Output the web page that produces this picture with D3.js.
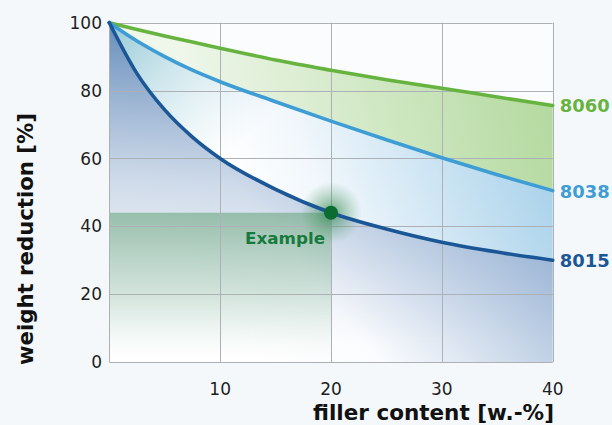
<!DOCTYPE html>
<html><head><meta charset="utf-8">
<script src="https://cdn.jsdelivr.net/npm/d3@7"></script>
<style>html,body{margin:0;padding:0;background:#f5f8fb;}svg{display:block;}</style>
</head><body>
<svg id="chart" width="612" height="425"></svg>
<script>
// ---- data ----
const fillerContent = [0, 2.5, 5, 7.5, 10, 15, 20, 25, 30, 35, 40];
const series8060 = [100, 98, 96.1, 94.3, 92.5, 89, 86, 83.2, 80.7, 78.1, 75.6];
const series8038 = [100, 94.6, 90, 86, 82.6, 76.7, 71, 65.5, 60.2, 55.2, 50.5];
const series8015 = [100, 85, 74.3, 66.3, 60, 50.9, 44, 39.2, 35.3, 32.4, 30];
const seriesNames = ["8060", "8038", "8015"];
const xTicks = [10, 20, 30, 40];
const yTicks = [0, 20, 40, 60, 80, 100];
const example = {x: 20, y: 44, label: "Example"};
const xTitle = "filler content [w.-%]";
const yTitle = "weight reduction [%]";

const FONT = "'DejaVu Sans', Verdana, sans-serif";
const svg = d3.select("#chart");
const x = d3.scaleLinear().domain([0, 40]).range([109.3, 552.7]);
const y = d3.scaleLinear().domain([0, 100]).range([362, 22.7]);
const rows = fillerContent.map((f, i) => ({f, a: series8060[i], b: series8038[i], c: series8015[i]}));

const defs = svg.append("defs");
function lin(id, x1, y1, x2, y2, stops) {
  const g = defs.append("linearGradient").attr("id", id).attr("gradientUnits", "userSpaceOnUse")
    .attr("x1", x1).attr("y1", y1).attr("x2", x2).attr("y2", y2);
  stops.forEach(s => g.append("stop").attr("offset", s[0]).attr("stop-color", s[1]).attr("stop-opacity", s[2] == null ? 1 : s[2]));
}
// dark (8015) area
lin("gDarkBase", 300, 400, 565, 185, [[0, "#ffffff"], [0.25, "#fbfcfe"], [1, "#8dabd0"]]);
lin("gDarkTop", 0, y(100), 0, 345, [[0, "#5a84b5", 0.92], [0.5, "#6e92bf", 0.32], [1, "#8aa6cb", 0]]);
// blue (8038) area
lin("gBlueBase", 260, 240, 545, 115, [[0, "#ffffff"], [0.25, "#f1f7fc"], [1, "#a3cfe9"]]);
lin("gBlueTop", 110, 25, 235, 150, [[0, "#8cc4d3", 0.9], [1, "#bfe0e8", 0]]);
// green area
lin("gGreen", 200, 160, 553, 80, [[0, "#eff7eb"], [1, "#b3d99e"]]);
// example rect
lin("gEx", 0, y(example.y), 0, y(0), [[0, "#6ea782", 0.62], [0.55, "#98c4a5", 0.35], [1, "#c8e0cf", 0]]);
const rg = defs.append("radialGradient").attr("id", "gGlow");
rg.append("stop").attr("offset", 0).attr("stop-color", "#2a8048").attr("stop-opacity", 0.7);
rg.append("stop").attr("offset", 0.45).attr("stop-color", "#3d8f58").attr("stop-opacity", 0.38);
rg.append("stop").attr("offset", 1).attr("stop-color", "#5aa070").attr("stop-opacity", 0);

// plot background
svg.append("rect").attr("x", x(0)).attr("y", y(100)).attr("width", x(40) - x(0)).attr("height", y(0) - y(100)).attr("fill", "#fbfcfe");

const curve = d3.curveMonotoneX;
const areaDark = d3.area().curve(curve).x(d => x(d.f)).y0(y(0)).y1(d => y(d.c));
const areaBlue = d3.area().curve(curve).x(d => x(d.f)).y0(d => y(d.c)).y1(d => y(d.b));
const areaGreen = d3.area().curve(curve).x(d => x(d.f)).y0(d => y(d.b)).y1(d => y(d.a));
svg.append("path").attr("d", areaDark(rows)).attr("fill", "url(#gDarkBase)");
svg.append("path").attr("d", areaDark(rows)).attr("fill", "url(#gDarkTop)");
svg.append("path").attr("d", areaBlue(rows)).attr("fill", "url(#gBlueBase)");
svg.append("path").attr("d", areaBlue(rows)).attr("fill", "url(#gBlueTop)");
svg.append("path").attr("d", areaGreen(rows)).attr("fill", "url(#gGreen)");

// example rect
svg.append("rect").attr("x", x(0)).attr("y", y(example.y)).attr("width", x(example.x) - x(0)).attr("height", y(0) - y(example.y)).attr("fill", "url(#gEx)");

// grid
const grid = svg.append("g").attr("stroke", "#adb1b5").attr("stroke-width", 1).attr("fill", "none");
yTicks.forEach(t => grid.append("line").attr("x1", x(0)).attr("x2", x(40)).attr("y1", Math.round(y(t)) + 0.5).attr("y2", Math.round(y(t)) + 0.5));
[0].concat(xTicks).forEach(t => grid.append("line").attr("x1", Math.round(x(t)) + 0.5).attr("x2", Math.round(x(t)) + 0.5).attr("y1", y(100)).attr("y2", y(0)));

// glow
svg.append("circle").attr("cx", x(example.x)).attr("cy", y(example.y)).attr("r", 31).attr("fill", "url(#gGlow)");

// lines
const colors = {"8060": "#66b43f", "8038": "#3f9dd6", "8015": "#1b5796"};
const keys = {"8060": "a", "8038": "b", "8015": "c"};
seriesNames.forEach(n => {
  const line = d3.line().curve(curve).x(d => x(d.f)).y(d => y(d[keys[n]]));
  svg.append("path").attr("d", line(rows)).attr("fill", "none").attr("stroke", colors[n]).attr("stroke-width", 3.6).attr("stroke-linecap", "round");
  const last = rows[rows.length - 1];
  svg.append("text").attr("x", x(40) + 7).attr("y", y(last[keys[n]]) + 7)
    .attr("font-family", FONT).attr("font-weight", 700).attr("font-size", 18.5)
    .attr("textLength", 50).attr("lengthAdjust", "spacingAndGlyphs")
    .attr("fill", colors[n]).text(n);
});

// example point
svg.append("circle").attr("cx", x(example.x)).attr("cy", y(example.y)).attr("r", 7).attr("fill", "#0b6c31");
svg.append("text").attr("x", 245).attr("y", y(example.y) + 31)
  .attr("font-family", FONT).attr("font-weight", 700).attr("font-size", 16.5)
  .attr("textLength", 80).attr("lengthAdjust", "spacingAndGlyphs")
  .attr("fill", "#177a3d").text(example.label);

// tick labels
const tf = svg.append("g").attr("font-family", FONT).attr("font-size", 17).attr("fill", "#1e1e1e");
yTicks.forEach(t => tf.append("text").attr("x", 102).attr("y", y(t)).attr("dy", "0.36em").attr("text-anchor", "end").text(t));
xTicks.forEach(t => tf.append("text").attr("x", x(t)).attr("y", 395).attr("text-anchor", "middle").text(t));

// titles
svg.append("text").attr("x", 313).attr("y", 420)
  .attr("font-family", FONT).attr("font-weight", 700).attr("font-size", 21)
  .attr("textLength", 241).attr("lengthAdjust", "spacingAndGlyphs")
  .attr("fill", "#111").text(xTitle);
svg.append("text").attr("transform", "translate(33,365) rotate(-90)")
  .attr("font-family", FONT).attr("font-weight", 700).attr("font-size", 21)
  .attr("textLength", 252).attr("lengthAdjust", "spacingAndGlyphs")
  .attr("fill", "#111").text(yTitle);
</script>
</body></html>
